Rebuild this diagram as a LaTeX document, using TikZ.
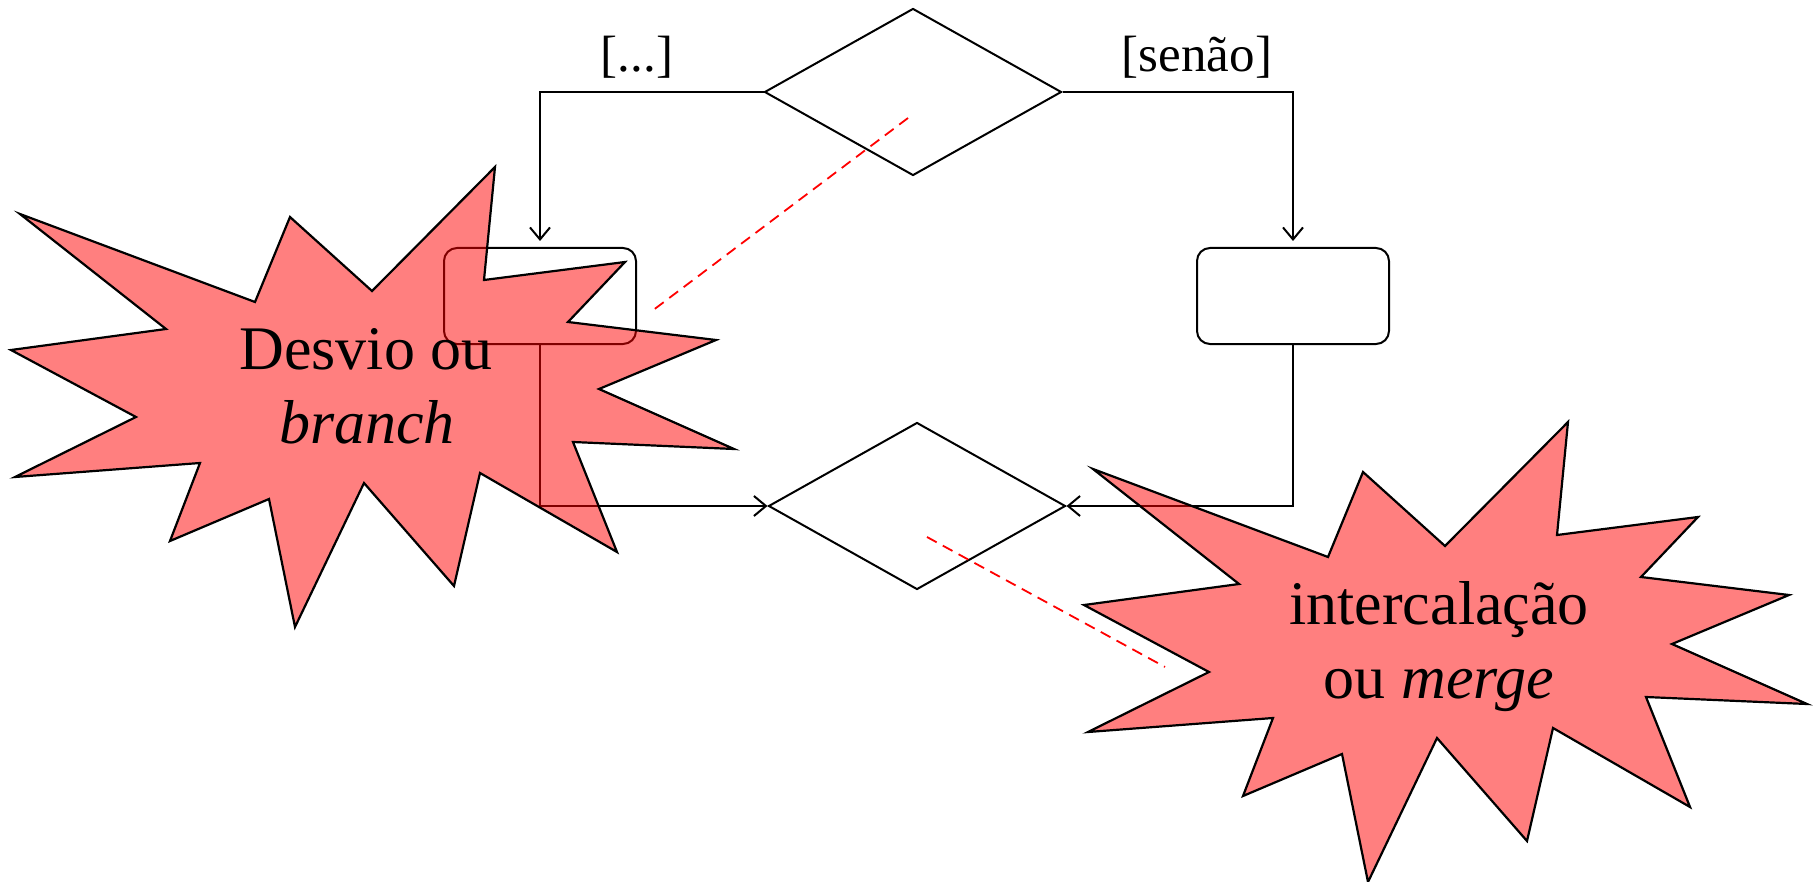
\documentclass[tikz,border=0pt]{standalone}
\usepackage{fontspec}
\setmainfont{Liberation Serif}
\usetikzlibrary{shapes.geometric,arrows.meta}
\begin{document}
\begin{tikzpicture}[x=0.5pt,y=-0.5pt,
  flow/.style={line width=1pt},
  tip/.style={-{Straight Barb[length=6pt,width=10pt]}},
  dec/.style={diamond,draw,line width=1pt,minimum width=148.5pt,minimum height=83.5pt,inner sep=0pt},
  act/.style={draw,rounded corners=6.5pt,line width=1pt,minimum width=96pt,minimum height=48pt,inner sep=0pt},
  note/.style={draw=red,line width=0.9pt,dash pattern=on 5.5pt off 3.5pt},
  burst/.style={fill=red,fill opacity=0.5,draw=black,line width=1.1pt,line join=miter},
  lbl/.style={font=\fontsize{25.5}{30}\selectfont,anchor=base,inner sep=0pt},
  big/.style={font=\fontsize{31}{37.5}\selectfont,anchor=base,inner sep=0pt}]
\useasboundingbox (0,0) rectangle (1814,882);
% flow nodes
\node[dec] (d1) at (913,92) {};
\node[dec] (d2) at (917,506) {};
\node[act] (r1) at (540,296) {};
\node[act] (r2) at (1293,296) {};
% connectors
\draw[flow,tip,shorten >=3pt] (d1.west) -| (r1.north);
\draw[flow,tip,shorten >=3pt] (d1.east) -| (r2.north);
\draw[flow,tip] (r1.south) |- (d2.west);
\draw[flow,tip] (r2.south) |- (d2.east);
% guard labels
\node[lbl] (l1) at (637,72) {[...]};
\node[lbl] (l2) at (1197,72) {[senão]};
% dashed pointers
\coordinate (n1a) at (908,118);
\coordinate (n1b) at (652,311);
\coordinate (n2a) at (927,537);
\coordinate (n2b) at (1165,667);
\draw[note] (n1a) -- (n1b);
\draw[note] (n2a) -- (n2b);
% starbursts
\draw[burst] (495,167) -- (484,280) -- (625,262) -- (568,322) -- (716,340) -- (599,389)
  -- (734,449) -- (573,442) -- (617,552) -- (480,473) -- (454,586) -- (364,483)
  -- (295,627) -- (269,499) -- (170,541) -- (200,463) -- (15,477) -- (136,417)
  -- (11,350) -- (166,329) -- (20,214) -- (255,302) -- (290,217) -- (372,291) -- cycle;
\begin{scope}[shift={(1073,255)}]
\draw[burst] (495,167) -- (484,280) -- (625,262) -- (568,322) -- (716,340) -- (599,389)
  -- (734,449) -- (573,442) -- (617,552) -- (480,473) -- (454,586) -- (364,483)
  -- (295,627) -- (269,499) -- (170,541) -- (200,463) -- (15,477) -- (136,417)
  -- (11,350) -- (166,329) -- (20,214) -- (255,302) -- (290,217) -- (372,291) -- cycle;
\end{scope}
% starburst texts
\node[big] (t1) at (366,369) {Desvio ou};
\node[big] (t2) at (367,443) {\textit{branch}};
\node[big] (t3) at (1439,624) {intercalação};
\node[big] (t4) at (1439,698) {ou \textit{merge}};
\end{tikzpicture}
\end{document}
